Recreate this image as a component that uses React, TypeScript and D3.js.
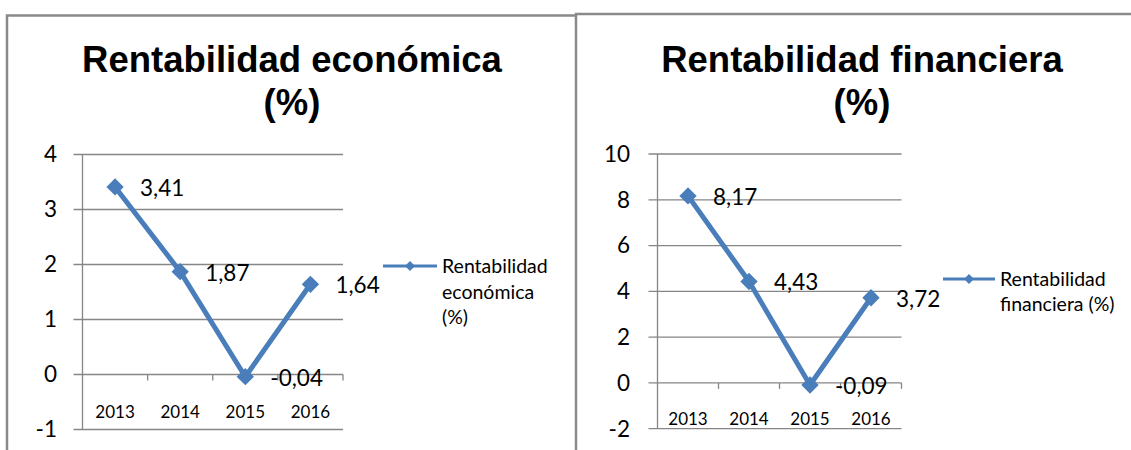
import * as d3 from 'd3'

const years = ['2013', '2014', '2015', '2016']
const economica = [3.41, 1.87, -0.04, 1.64]
const financiera = [8.17, 4.43, -0.09, 3.72]
const economicaTicks = [-1, 0, 1, 2, 3, 4]
const financieraTicks = [-2, 0, 2, 4, 6, 8, 10]
const economicaTitle = ['Rentabilidad económica', '(%)']
const financieraTitle = ['Rentabilidad financiera', '(%)']
const economicaLegend = ['Rentabilidad', 'económica', '(%)']
const financieraLegend = ['Rentabilidad', 'financiera (%)']

const BLUE = '#4a7ebb'
const GRID = '#868686'
const BODY_FONT = 'Lato, "Open Sans", sans-serif'
const TITLE_FONT = '"Liberation Sans", Arial, sans-serif'

// spanish style numbers: comma decimal, plain hyphen minus
const esFormat = d3
  .formatLocale({ decimal: ',', thousands: '.', grouping: [3], currency: ['', ''], minus: '-' })
  .format('.2f')

type Layout = {
  box: { x: number; y: number; w: number }
  plot: { left: number; right: number; top: number; bottom: number }
  yLabelRight: number
  xLabelY: number
  titleX: number
  legend: { x1: number; x2: number; y: number; textX: number; lineH: number }
}

const leftLayout: Layout = {
  box: { x: 7, y: 15.5, w: 568 },
  plot: { left: 82.5, right: 343, top: 154.5, bottom: 429.5 },
  yLabelRight: 57,
  xLabelY: 412,
  titleX: 292,
  legend: { x1: 383, x2: 437, y: 266, textX: 442, lineH: 25.7 },
}

const rightLayout: Layout = {
  box: { x: 576, y: 14, w: 600 },
  plot: { left: 657.5, right: 901.5, top: 154, bottom: 428.7 },
  yLabelRight: 630,
  xLabelY: 419,
  titleX: 862,
  legend: { x1: 943, x2: 995, y: 279, textX: 1000, lineH: 25 },
}

function LineChart({ values, ticks, title, legend, layout }: {
  values: number[]
  ticks: number[]
  title: string[]
  legend: string[]
  layout: Layout
}) {
  const { plot, box } = layout
  const x = d3.scaleBand().domain(years).range([plot.left, plot.right])
  const y = d3.scaleLinear().domain(d3.extent(ticks) as [number, number]).range([plot.bottom, plot.top])
  const cx = (d: string) => (x(d) ?? 0) + x.bandwidth() / 2
  const pts = years.map((d, i) => [cx(d), y(values[i])] as [number, number])
  const line = d3.line()
  const marker = d3.symbol(d3.symbolSquare, 150)()
  const smallMarker = d3.symbol(d3.symbolSquare, 50)()
  const y0 = y(0)

  return (
    <g>
      {/* chart frame */}
      <path d={`M${box.x},450 V${box.y} H${box.x + box.w}`} fill="none" stroke="#8a8a8a" strokeWidth={2.5} />

      {title.map((t, i) => (
        <text key={t} x={layout.titleX} y={72 + i * 43} textAnchor="middle" fontFamily={TITLE_FONT}
          fontWeight="bold" fontSize={36.5} fill="#000">{t}</text>
      ))}

      {/* gridlines + y ticks */}
      {ticks.map((t) => (
        <g key={t}>
          <line x1={plot.left - 9} x2={plot.right} y1={y(t)} y2={y(t)} stroke={GRID} strokeWidth={1.3} />
          <text x={layout.yLabelRight} y={y(t)} dy="0.35em" textAnchor="end" fontFamily={BODY_FONT}
            fontSize={22.5} fill="#000">{t}</text>
        </g>
      ))}
      <line x1={plot.left} x2={plot.left} y1={plot.top} y2={plot.bottom} stroke={GRID} strokeWidth={1.3} />

      {/* category ticks on the zero line */}
      {years.map((d) => (
        <line key={d} x1={(x(d) ?? 0) + x.bandwidth()} x2={(x(d) ?? 0) + x.bandwidth()} y1={y0} y2={y0 + 6}
          stroke={GRID} strokeWidth={1.3} />
      ))}
      {years.map((d) => (
        <text key={d} x={cx(d)} y={layout.xLabelY} dy="0.35em" textAnchor="middle" fontFamily={BODY_FONT}
          fontSize={17} fill="#000">{d}</text>
      ))}

      <path d={line(pts) ?? ''} fill="none" stroke={BLUE} strokeWidth={5} strokeLinejoin="round" />
      {pts.map(([px, py], i) => (
        <path key={i} d={marker ?? ''} transform={`translate(${px},${py}) rotate(45)`} fill={BLUE} />
      ))}
      {pts.map(([px, py], i) => (
        <text key={i} x={px + 25} y={py + 1} dy="0.35em" fontFamily={BODY_FONT} fontSize={22.5} fill="#000">
          {esFormat(values[i])}
        </text>
      ))}

      {/* legend */}
      <line x1={layout.legend.x1} x2={layout.legend.x2} y1={layout.legend.y} y2={layout.legend.y}
        stroke={BLUE} strokeWidth={3} />
      <path d={smallMarker ?? ''} transform={`translate(${(layout.legend.x1 + layout.legend.x2) / 2},${layout.legend.y}) rotate(45)`}
        fill={BLUE} />
      {legend.map((t, i) => (
        <text key={t} x={layout.legend.textX} y={layout.legend.y + i * layout.legend.lineH} dy="0.35em"
          fontFamily={BODY_FONT} fontSize={19.5} fill="#000">{t}</text>
      ))}
    </g>
  )
}

export default function App() {
  return (
    <svg width={1131} height={450} viewBox="0 0 1131 450"
      style={{ position: 'absolute', left: 0, top: 0, background: '#fff' }}>
      <rect width={1131} height={450} fill="#fff" />
      <LineChart values={economica} ticks={economicaTicks} title={economicaTitle} legend={economicaLegend}
        layout={leftLayout} />
      <LineChart values={financiera} ticks={financieraTicks} title={financieraTitle} legend={financieraLegend}
        layout={rightLayout} />
    </svg>
  )
}
